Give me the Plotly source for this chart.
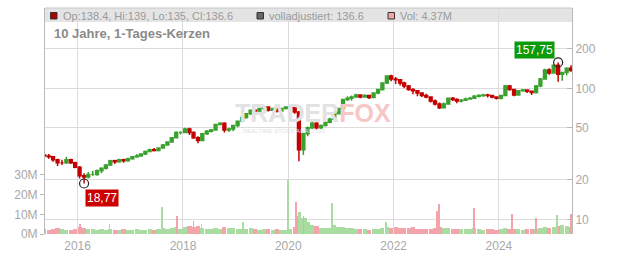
import plotly.graph_objects as go
import pandas as pd

# ---------------- data (monthly) ----------------
months = pd.date_range("2015-05-01", periods=121, freq="MS") + pd.Timedelta(days=14)

first_open = 31.0
close = [
    30.5, 30, 28.5, 27, 27, 28.5, 27, 25,                       # 2015 May-Dec
    21.5, 21, 22, 22, 23.5, 24.5, 26, 28, 27.5, 28.5, 28, 29,   # 2016
    30, 30.5, 31.5, 33, 34, 33.5, 35, 37, 39, 42, 46, 46,       # 2017
    49, 46, 42, 40, 45, 47, 48, 53, 54, 48, 49, 52,             # 2018
    56, 60, 64, 68, 67, 70, 72, 68, 70, 67, 70, 72,             # 2019
    73, 66, 34, 45, 50, 54, 50, 52, 55, 58, 64, 70,             # 2020
    82, 84, 86, 89, 86, 88, 85, 92, 98, 110, 124, 118,          # 2021
    116, 110, 104, 98, 96, 92, 88, 86, 80, 76, 71, 76,          # 2022
    84, 82, 80, 81, 83, 84, 87, 88, 89, 88, 86, 84,             # 2023
    88, 104, 98, 89, 96, 97, 95, 93, 104, 118, 138, 131,        # 2024
    150, 128, 132, 142, 136.6,                                  # 2025 Jan-May
]
high = [
    32, 31.5, 30.5, 29, 28.5, 30, 29, 27.5,
    25.5, 22.5, 23, 23.5, 24, 25, 26.5, 28.5, 28.5, 29, 29, 29.5,
    30.5, 31.5, 32, 33.5, 34.5, 35, 35.5, 37.5, 39.5, 42.5, 47, 47,
    50, 50, 47, 43, 45.5, 48, 49, 53.5, 55, 55, 50, 52.5,
    56.5, 60.5, 64.5, 68.5, 69, 70.5, 73, 72.5, 71, 71, 71, 73,
    75, 76, 67, 46, 51, 55.5, 55, 53, 56, 59.5, 65, 71,
    83, 87, 88, 91, 90, 90, 89, 93, 99, 111, 126, 127,
    122, 118, 112, 106, 100, 97, 93, 91, 87, 82, 78, 78,
    85, 86, 84, 83, 85, 86, 89, 90, 91, 91, 89, 87,
    89, 106, 106, 99, 97, 99, 98, 96, 106, 120, 141, 142,
    152, 157.75, 134, 145, 150,
]
low = [
    29.5, 29, 27.5, 25.5, 26, 26.5, 26.5, 24.5,
    20.5, 18.77, 20.5, 21.5, 21.5, 22.5, 24, 25.5, 26.5, 27, 27, 27.5,
    28.5, 29.5, 30, 31, 32.5, 33, 33, 34.5, 36.5, 38.5, 41.5, 44.5,
    45.5, 44, 41, 38, 39.5, 44, 46, 47.5, 52, 46, 46.5, 47,
    50.5, 55, 58.5, 62.5, 65, 66, 69, 66.5, 67, 65.5, 66.5, 69,
    70.5, 64, 27.7, 31, 43, 49, 48.5, 49, 51, 54, 57, 63,
    69, 80, 80.5, 85, 84, 85, 83, 84.5, 90, 96, 108, 113,
    108, 105, 100, 96, 90, 87, 86, 84, 78, 74, 69.5, 70,
    75, 80, 77, 78, 80, 82, 83, 85, 86, 85, 84, 82,
    82, 87, 96, 87, 88, 94, 92, 89, 91, 102, 116, 127,
    129, 112, 114, 125, 134,
]
open_ = [first_open] + close[:-1]

# typical daily volume per month (millions)
volume_m = [
    2.5, 2.0, 2.5, 3.0, 2.5, 2.0, 2.0, 2.5,
    3.5, 3.0, 2.5, 2.5, 2.0, 2.5, 2.0, 2.5, 2.0, 2.0, 2.5, 2.0,
    2.0, 2.5, 2.0, 2.0, 2.5, 2.0, 2.5, 3.0, 2.5, 3.0, 3.5, 2.5,
    3.5, 4.0, 3.5, 4.0, 3.0, 2.5, 2.5, 3.0, 2.5, 3.5, 3.0, 3.0,
    2.5, 2.5, 2.5, 3.0, 2.5, 2.0, 2.5, 2.5, 2.0, 2.5, 2.0, 2.0,
    2.5, 3.5, 9.0, 8.0, 6.0, 4.5, 4.0, 3.0, 3.0, 3.0, 4.5, 3.5,
    3.5, 3.0, 3.0, 2.5, 2.5, 2.5, 2.0, 2.5, 2.5, 3.0, 3.5, 3.0,
    3.5, 3.0, 3.0, 3.0, 3.5, 2.5, 2.5, 2.5, 2.5, 3.0, 3.5, 3.0,
    3.0, 2.5, 2.5, 2.5, 2.5, 2.5, 3.0, 2.5, 2.0, 2.5, 2.5, 2.0,
    2.5, 3.0, 2.5, 2.5, 2.5, 2.0, 2.5, 2.5, 2.5, 3.0, 3.5, 3.0,
    3.5, 4.0, 4.5, 4.0, 3.5,
]
# notable single-day volume spikes (millions)
spike_dates = ["2016-01-20", "2016-08-10", "2017-08-08", "2017-11-20", "2018-03-15",
               "2018-05-10", "2019-02-20", "2019-12-30", "2020-02-24", "2020-03-12",
               "2020-03-24", "2020-04-15", "2020-05-05", "2020-10-30", "2021-11-10",
               "2022-10-28", "2022-11-10", "2023-07-14", "2024-04-02", "2024-09-12",
               "2025-02-06", "2025-05-15"]
spike_vol = [5.0, 5.0, 13.5, 9.0, 6.5, 5.0, 6.0, 27.5, 16.0, 11.0,
             11.0, 9.0, 8.0, 15.5, 6.0, 11.5, 15.0, 13.0, 10.0, 8.0, 9.5, 10.0]
spike_up = [False, True, True, False, False, True, True, True, False, True,
            True, False, True, True, True, False, False, False, False, False, True, False]

price_ticks = [10, 20, 50, 100, 200]
vol_ticks = [0, 10e6, 20e6, 30e6]
vol_ticktext = ["0M", "10M", "20M", "30M"]
year_ticks = ["2016-01-01", "2018-01-01", "2020-01-01", "2022-01-01", "2024-01-01"]
year_text = ["2016", "2018", "2020", "2022", "2024"]

legend_text = ["Op:138.4, Hi:139, Lo:135, Cl:136.6", "volladjustiert: 136.6", "Vol: 4.37M"]
title_text = "10 Jahre, 1-Tages-Kerzen"
hi_label, lo_label = "157,75", "18,77"
hi_date, lo_date = months[117], months[9]

# ---------------- styling ----------------
GREEN, RED = "#3aa12e", "#c40000"
VGREEN, VRED = "#a8dca0", "#f2a4aa"
GRID = "#dcdcdc"
FONT = "Liberation Sans, Arial, sans-serif"

W, H = 632, 253
ML, MR, MT, MB = 45, 60, 8, 19
PW, PH = W - ML - MR, H - MT - MB


def px(x):
    return (x - ML) / PW


def py(y):
    return 1 - (y - MT) / PH


vol = [v * 1e6 for v in volume_m]
vcol = [VGREEN if c >= o else VRED for o, c in zip(open_, close)]

fig = go.Figure()
fig.add_trace(go.Bar(x=months, y=vol, marker=dict(color=vcol, line=dict(width=0)),
                     width=29 * 86400000, yaxis="y2", hoverinfo="skip"))
fig.add_trace(go.Bar(x=spike_dates, y=[v * 1e6 for v in spike_vol],
                     marker=dict(color=[VGREEN if u else VRED for u in spike_up], line=dict(width=0)),
                     width=5 * 86400000, yaxis="y2", hoverinfo="skip"))
fig.add_trace(go.Candlestick(
    x=months, open=open_, high=high, low=low, close=close, yaxis="y",
    increasing=dict(line=dict(color=GREEN, width=1.5), fillcolor=GREEN),
    decreasing=dict(line=dict(color=RED, width=1.5), fillcolor=RED),
    whiskerwidth=0, hoverinfo="skip"))
fig.add_trace(go.Scatter(x=[hi_date, lo_date], y=[157.75, 18.77], mode="markers", yaxis="y",
                         marker=dict(symbol="circle-open", size=9, color="#222", line=dict(width=1.2)),
                         hoverinfo="skip"))

fig.update_layout(
    width=W, height=H, margin=dict(l=ML, r=MR, t=MT, b=MB, autoexpand=False),
    paper_bgcolor="white", plot_bgcolor="white", showlegend=False,
    barmode="overlay", bargap=0, boxgap=0.0,
    font=dict(family=FONT, size=12, color="#a8a8a8"),
    xaxis=dict(type="date", range=["2015-05-20", "2025-05-22"], rangeslider=dict(visible=False),
               tickvals=year_ticks, ticktext=year_text, showgrid=True, gridcolor=GRID, gridwidth=1,
               showline=False, zeroline=False, ticks="", ticklabelstandoff=3, automargin=False,
               tickfont=dict(size=12, color="#a8a8a8")),
    yaxis=dict(type="log", side="right", range=[0.888, 2.613], tickvals=price_ticks,
               ticktext=[str(t) for t in price_ticks], showgrid=True, gridcolor=GRID,
               showline=True, linecolor="#b8b8b8", linewidth=1, ticks="inside", ticklen=5,
               tickcolor="#b8b8b8", zeroline=False, automargin=False,
               tickfont=dict(size=12, color="#a8a8a8")),
    yaxis2=dict(overlaying="y", side="left", range=[0, 114.7e6], tickvals=vol_ticks,
                ticktext=vol_ticktext, showgrid=False, zeroline=False, showline=True,
                linecolor="#b8b8b8", linewidth=1, ticks="outside", ticklen=4, tickcolor="#b8b8b8",
                automargin=False, tickfont=dict(size=12, color="#a8a8a8")),
)

shapes = [
    dict(type="rect", xref="paper", yref="paper", x0=0, x1=1, y0=py(22), y1=1,
         fillcolor="#e4e4e4", line=dict(width=0), layer="below"),
    dict(type="line", xref="paper", yref="paper", x0=0, x1=1, y0=1, y1=1,
         line=dict(color="#c8c8c8", width=1)),
    dict(type="rect", xref="paper", yref="paper", x0=px(50.5), x1=px(57), y0=py(19), y1=py(12.5),
         fillcolor="#b00000", line=dict(color="#333", width=1)),
    dict(type="rect", xref="paper", yref="paper", x0=px(257), x1=px(263.5), y0=py(19), y1=py(12.5),
         fillcolor="#666666", line=dict(color="#333", width=1)),
    dict(type="rect", xref="paper", yref="paper", x0=px(388), x1=px(394.5), y0=py(19), y1=py(12.5),
         fillcolor="#f2a4aa", line=dict(color="#333", width=1)),
]
fig.update_layout(shapes=shapes)

ann = [
    dict(x=px(61), y=py(15.5), text=legend_text[0], font=dict(size=11, color="#9a9a9a")),
    dict(x=px(267), y=py(15.5), text=legend_text[1], font=dict(size=11, color="#9a9a9a")),
    dict(x=px(398), y=py(15.5), text=legend_text[2], font=dict(size=11, color="#9a9a9a")),
    dict(x=px(52), y=py(33), text="<b>" + title_text + "</b>", font=dict(size=13, color="#8a8a8a")),
    dict(x=px(233), y=py(113),
         text="<b><span style='color:#e2e2e2'>TRADER</span><span style='color:#f7c6c6'>FOX</span></b>",
         font=dict(size=25, family="Liberation Sans Narrow, Arial Narrow, Liberation Sans")),
    dict(x=px(241), y=py(131), text="REALTIME STOCK ANALYSIS",
         font=dict(size=6, color="#e2e2e2")),
]
for a in ann:
    a.update(xref="paper", yref="paper", xanchor="left", yanchor="middle", showarrow=False)
fig.update_layout(annotations=ann)

fig.add_annotation(x=hi_date, y=2.198, xref="x", yref="y", text=hi_label, showarrow=False,
                   xanchor="right", yanchor="bottom", xshift=-3, yshift=3,
                   bgcolor="#0a9a0a", font=dict(size=12, color="white"), borderpad=1)
fig.add_annotation(x=lo_date, y=1.2734, xref="x", yref="y", text=lo_label, showarrow=False,
                   xanchor="left", yanchor="top", xshift=1, yshift=-5,
                   bgcolor="#cc0000", font=dict(size=12, color="white"), borderpad=1)

fig.write_html("out.html")
